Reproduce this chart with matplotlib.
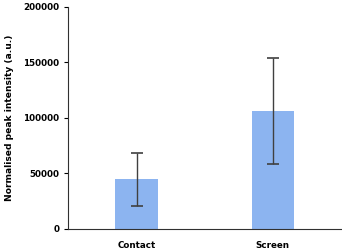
import numpy as np
import matplotlib.pyplot as plt

# data
groups = ['Contact', 'Screen']
intensity = [44500, 106000]
intensity_err = [24000, 47500]

plt.rcParams['font.family'] = 'DejaVu Sans'
plt.rcParams['font.weight'] = 'bold'

fig = plt.figure(figsize=(3.42, 2.5), dpi=100)
ax = fig.add_axes([0.2, 0.085, 0.797, 0.888])

x = np.arange(len(groups))
ax.bar(x, intensity, width=0.31, color='#8cb4f0', zorder=2)
ax.errorbar(x, intensity, yerr=intensity_err, ls='None', c='#404040',
            lw=1, capsize=4.3, capthick=1.2, zorder=3)

# axes styling
ax.set_xlim(-0.5, 1.5)
ax.set_ylim(0, 200000)
ax.set_yticks([0, 50000, 100000, 150000, 200000])
ax.set_xticks(x)
ax.set_xticklabels(groups, fontsize=6.3, fontweight='bold')
ax.tick_params(axis='x', length=0, pad=8.5)
ax.tick_params(axis='y', labelsize=6.3, length=3, width=0.8, direction='out')
ax.set_ylabel('Normalised peak intensity (a.u.)', fontsize=6.6,
              fontweight='bold', labelpad=6.5)
ax.spines['top'].set_visible(False)
ax.spines['right'].set_visible(False)
ax.spines['left'].set_color('#303030')
ax.spines['bottom'].set_color('#303030')

fig.savefig('out.png', dpi=100)
